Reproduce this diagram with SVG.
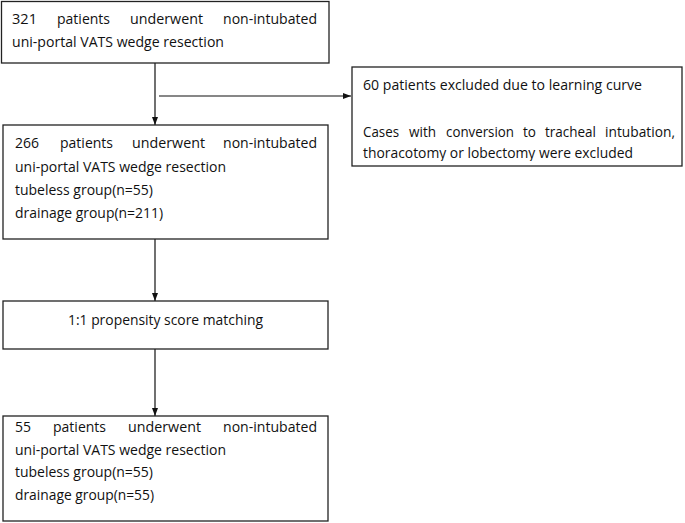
<svg xmlns="http://www.w3.org/2000/svg" width="685" height="523" viewBox="0 0 685 523">
<defs>
<marker id="ah" viewBox="0 0 8 8" refX="8" refY="4" markerWidth="8" markerHeight="8" markerUnits="userSpaceOnUse" orient="auto">
<path d="M0,1 L8,4 L0,7 Z" fill="#111"/>
</marker>
<clipPath id="c2"><rect x="352" y="67" width="330" height="94"/></clipPath>
</defs>
<style>
.box{fill:#fff;stroke:#222;stroke-width:1.3}
.t{font-family:"Open Sans","Liberation Sans",sans-serif;font-size:15px;fill:#111}
.m{text-anchor:middle}
.ln{stroke:#111;stroke-width:1.2;fill:none}
</style>
<rect width="685" height="523" fill="#fff"/>
<g id="connectors">
<line class="ln" x1="155" y1="63" x2="155" y2="125" marker-end="url(#ah)"/>
<line class="ln" x1="159" y1="96" x2="351" y2="96" marker-end="url(#ah)"/>
<line class="ln" x1="155" y1="239" x2="155" y2="301" marker-end="url(#ah)"/>
<line class="ln" x1="155" y1="349" x2="155" y2="416" marker-end="url(#ah)"/>
</g>
<g id="n1">
<rect class="box" x="1.5" y="1.5" width="327.5" height="61.5"/>
<text class="t" x="12" y="24" textLength="25" lengthAdjust="spacingAndGlyphs">321</text>
<text class="t" x="57" y="24" textLength="53" lengthAdjust="spacingAndGlyphs">patients</text>
<text class="t" x="130" y="24" textLength="73" lengthAdjust="spacingAndGlyphs">underwent</text>
<text class="t" x="223" y="24" textLength="94" lengthAdjust="spacingAndGlyphs">non-intubated</text>
<text class="t" x="12" y="47" textLength="212" lengthAdjust="spacingAndGlyphs">uni-portal VATS wedge resection</text>
</g>
<g id="n2">
<rect class="box" x="352" y="67" width="330" height="99"/>
<text class="t" x="363" y="90" textLength="279" lengthAdjust="spacingAndGlyphs">60 patients excluded due to learning curve</text>
<text class="t" x="363" y="137" textLength="36" lengthAdjust="spacingAndGlyphs">Cases</text>
<text class="t" x="409" y="137" textLength="27" lengthAdjust="spacingAndGlyphs">with</text>
<text class="t" x="446" y="137" textLength="68" lengthAdjust="spacingAndGlyphs">conversion</text>
<text class="t" x="523" y="137" textLength="13" lengthAdjust="spacingAndGlyphs">to</text>
<text class="t" x="545" y="137" textLength="51" lengthAdjust="spacingAndGlyphs">tracheal</text>
<text class="t" x="605" y="137" textLength="70" lengthAdjust="spacingAndGlyphs">intubation,</text>
<text class="t" x="363" y="158" clip-path="url(#c2)" textLength="270" lengthAdjust="spacingAndGlyphs">thoracotomy or lobectomy were excluded</text>
</g>
<g id="n3">
<rect class="box" x="3" y="125" width="325" height="114"/>
<text class="t" x="15" y="148" textLength="24" lengthAdjust="spacingAndGlyphs">266</text>
<text class="t" x="60" y="148" textLength="53" lengthAdjust="spacingAndGlyphs">patients</text>
<text class="t" x="132" y="148" textLength="73" lengthAdjust="spacingAndGlyphs">underwent</text>
<text class="t" x="223" y="148" textLength="94" lengthAdjust="spacingAndGlyphs">non-intubated</text>
<text class="t" x="15" y="172" textLength="211" lengthAdjust="spacingAndGlyphs">uni-portal VATS wedge resection</text>
<text class="t" x="15" y="195" textLength="138" lengthAdjust="spacingAndGlyphs">tubeless group(n=55)</text>
<text class="t" x="15" y="218" textLength="148" lengthAdjust="spacingAndGlyphs">drainage group(n=211)</text>
</g>
<g id="n4">
<rect class="box" x="3" y="301" width="325" height="48"/>
<text class="t m" x="165.5" y="325" textLength="195" lengthAdjust="spacingAndGlyphs">1:1 propensity score matching</text>
</g>
<g id="n5">
<rect class="box" x="3" y="416" width="325" height="105"/>
<text class="t" x="15" y="432" textLength="16" lengthAdjust="spacingAndGlyphs">55</text>
<text class="t" x="53" y="432" textLength="53" lengthAdjust="spacingAndGlyphs">patients</text>
<text class="t" x="128" y="432" textLength="73" lengthAdjust="spacingAndGlyphs">underwent</text>
<text class="t" x="223" y="432" textLength="94" lengthAdjust="spacingAndGlyphs">non-intubated</text>
<text class="t" x="15" y="455" textLength="211" lengthAdjust="spacingAndGlyphs">uni-portal VATS wedge resection</text>
<text class="t" x="15" y="477" textLength="138" lengthAdjust="spacingAndGlyphs">tubeless group(n=55)</text>
<text class="t" x="15" y="500" textLength="139" lengthAdjust="spacingAndGlyphs">drainage group(n=55)</text>
</g>
</svg>
